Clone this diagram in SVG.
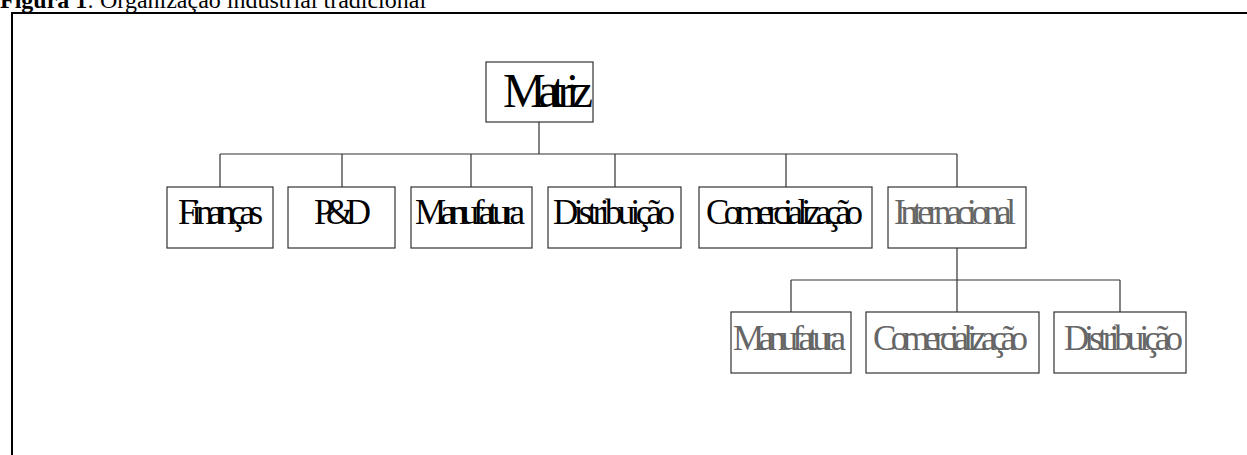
<svg xmlns="http://www.w3.org/2000/svg" width="1247" height="455" viewBox="0 0 1247 455">
<style>
.box{fill:#fff;stroke:#333;stroke-width:1.2}
.t{font-family:"Liberation Serif","Times New Roman",serif;fill:#000}
.n{font-size:35px}
.g{fill:#666}
.c{stroke:#333;stroke-width:1.2;fill:none}
</style>
<rect width="1247" height="455" fill="#fff"/>
<text x="0" y="8" class="t" font-size="24"><tspan font-weight="bold">Figura 1</tspan>: Organização industrial tradicional</text>
<path d="M12 455 V13 H1247" stroke="#000" stroke-width="2" fill="none"/>
<g id="connectors">
<path class="c" d="M539 122 V154 M220 154 H957 M220 154 V187 M342 154 V187 M471 154 V187 M615 154 V187 M786 154 V187 M957 154 V187 M957 248 V280 M791 280 H1120 M791 280 V312 M957 280 V312 M1120 280 V312"/>
</g>
<g id="matriz"><rect class="box" x="486" y="62" width="107" height="60"/><text class="t" x="503" y="107" font-size="48" textLength="90">Matriz</text></g>
<g id="financas"><rect class="box" x="167" y="187" width="106" height="61"/><text class="t n" x="178" y="224" textLength="85">Finanças</text></g>
<g id="pd"><rect class="box" x="288" y="187" width="107" height="61"/><text class="t n" x="314" y="224" textLength="57">P&amp;D</text></g>
<g id="manufatura"><rect class="box" x="411" y="187" width="121" height="61"/><text class="t n" x="415" y="224" textLength="110">Manufatura</text></g>
<g id="distribuicao"><rect class="box" x="548" y="187" width="133" height="61"/><text class="t n" x="553" y="224" textLength="122">Distribuição</text></g>
<g id="comercializacao"><rect class="box" x="699" y="187" width="173" height="61"/><text class="t n" x="706" y="224" textLength="157">Comercialização</text></g>
<g id="internacional"><rect class="box" x="888" y="187" width="138" height="61"/><text class="t n g" x="894" y="224" textLength="122">Internacional</text></g>
<g id="int-manufatura"><rect class="box" x="731" y="312" width="120" height="61"/><text class="t n g" x="733" y="350" textLength="113">Manufatura</text></g>
<g id="int-comercializacao"><rect class="box" x="866" y="312" width="173" height="61"/><text class="t n g" x="873" y="350" textLength="155">Comercialização</text></g>
<g id="int-distribuicao"><rect class="box" x="1054" y="312" width="132" height="61"/><text class="t n g" x="1064" y="350" textLength="119">Distribuição</text></g>
</svg>
